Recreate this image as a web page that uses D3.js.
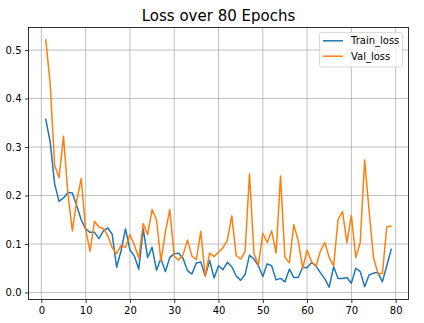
<!DOCTYPE html>
<html><head><meta charset="utf-8">
<script src="https://cdn.jsdelivr.net/npm/d3@7"></script>
<style>body{margin:0;background:#fff;}svg{display:block;font-family:"DejaVu Sans",sans-serif;}</style>
</head><body><svg id="c" width="424" height="323"></svg>
<script>
const title = "Loss over 80 Epochs";
const seriesNames = ["Train_loss", "Val_loss"];
const epochs = d3.range(1, 80);
const trainLoss = [0.357,0.31,0.224,0.188,0.195,0.206,0.205,0.179,0.15,0.131,0.124,0.124,0.111,0.127,0.133,0.12,0.052,0.086,0.131,0.088,0.075,0.048,0.131,0.072,0.093,0.046,0.07,0.043,0.072,0.08,0.081,0.07,0.045,0.038,0.061,0.063,0.034,0.066,0.03,0.055,0.047,0.062,0.053,0.034,0.025,0.037,0.077,0.069,0.055,0.033,0.059,0.055,0.026,0.029,0.022,0.048,0.031,0.031,0.052,0.051,0.062,0.055,0.041,0.028,0.011,0.053,0.029,0.029,0.031,0.019,0.05,0.043,0.012,0.036,0.04,0.041,0.022,0.055,0.089];
const valLoss = [0.521,0.43,0.262,0.237,0.322,0.204,0.127,0.19,0.235,0.13,0.085,0.147,0.135,0.132,0.117,0.092,0.08,0.097,0.093,0.119,0.098,0.071,0.142,0.119,0.171,0.15,0.065,0.124,0.171,0.075,0.067,0.078,0.108,0.075,0.068,0.126,0.034,0.081,0.074,0.083,0.092,0.108,0.158,0.076,0.069,0.084,0.245,0.081,0.056,0.122,0.103,0.127,0.081,0.24,0.072,0.061,0.14,0.107,0.05,0.087,0.064,0.054,0.085,0.103,0.072,0.055,0.151,0.167,0.103,0.159,0.072,0.103,0.273,0.169,0.072,0.039,0.039,0.135,0.137];
const xTicks = [0,10,20,30,40,50,60,70,80];
const yTicks = [0.0,0.1,0.2,0.3,0.4,0.5];
const colors = ["#1f77b4", "#ff7f0e"];

const svg = d3.select("#c");
const L = 28.5, R = 408.5, T = 27.5, B = 299.5;
const allV = trainLoss.concat(valLoss);
const xmin = d3.min(epochs), xmax = d3.max(epochs), xr = xmax - xmin;
const ymin = d3.min(allV), ymax = d3.max(allV), yr = ymax - ymin;
const x = d3.scaleLinear().domain([xmin - 0.05*xr, xmax + 0.05*xr]).range([L, R]);
const y = d3.scaleLinear().domain([ymin - 0.05*yr, ymax + 0.05*yr]).range([B, T]);

// grid
const g = svg.append("g");
g.selectAll(".vx").data(xTicks).join("line")
  .attr("x1", d => x(d)).attr("x2", d => x(d)).attr("y1", T).attr("y2", B)
  .attr("stroke", "#b0b0b0").attr("stroke-width", 0.8);
g.selectAll(".hy").data(yTicks).join("line")
  .attr("y1", d => y(d)).attr("y2", d => y(d)).attr("x1", L).attr("x2", R)
  .attr("stroke", "#b0b0b0").attr("stroke-width", 0.8);

// lines
const line = d3.line().x((d, i) => x(epochs[i])).y(d => y(d));
[trainLoss, valLoss].forEach((s, k) => {
  svg.append("path").datum(s).attr("d", line).attr("fill", "none")
    .attr("stroke", colors[k]).attr("stroke-width", 1.5).attr("stroke-linejoin", "round").attr("stroke-linecap", "square");
});

// axes
const xAxis = d3.axisBottom(x).tickValues(xTicks).tickFormat(d3.format("d")).tickSize(3.5).tickPadding(3.5);
const yAxis = d3.axisLeft(y).tickValues(yTicks).tickFormat(d3.format(".1f")).tickSize(3.5).tickPadding(3.5);
const xa = svg.append("g").attr("transform", `translate(0,${B})`).call(xAxis);
const ya = svg.append("g").attr("transform", `translate(${L},0)`).call(yAxis);
[xa, ya].forEach(a => {
  a.select(".domain").remove();
  a.selectAll("line").attr("stroke", "#000").attr("stroke-width", 0.8);
  a.selectAll("text").attr("fill", "#000").style("font-size", "10px").style("font-family", "DejaVu Sans");
});
svg.append("rect").attr("x", L).attr("y", T).attr("width", R - L).attr("height", B - T)
  .attr("fill", "none").attr("stroke", "#000").attr("stroke-width", 0.8);

// title
svg.append("text").attr("x", (L + R) / 2).attr("y", 21).attr("text-anchor", "middle")
  .style("font-size", "15px").attr("fill", "#000").text(title);

// legend
const lg = svg.append("g");
lg.append("rect").attr("x", 319.5).attr("y", 32.5).attr("width", 83).attr("height", 34.5).attr("rx", 2)
  .attr("fill", "#fff").attr("fill-opacity", 0.8).attr("stroke", "#d0d0d0").attr("stroke-width", 0.8);
seriesNames.forEach((n, k) => {
  const yy = 40.8 + k * 15.4;
  lg.append("line").attr("x1", 323).attr("x2", 343).attr("y1", yy).attr("y2", yy)
    .attr("stroke", colors[k]).attr("stroke-width", 1.5);
  lg.append("text").attr("x", 351).attr("y", yy + 3.6).style("font-size", "10px").attr("fill", "#000").text(n);
});
</script></body></html>
